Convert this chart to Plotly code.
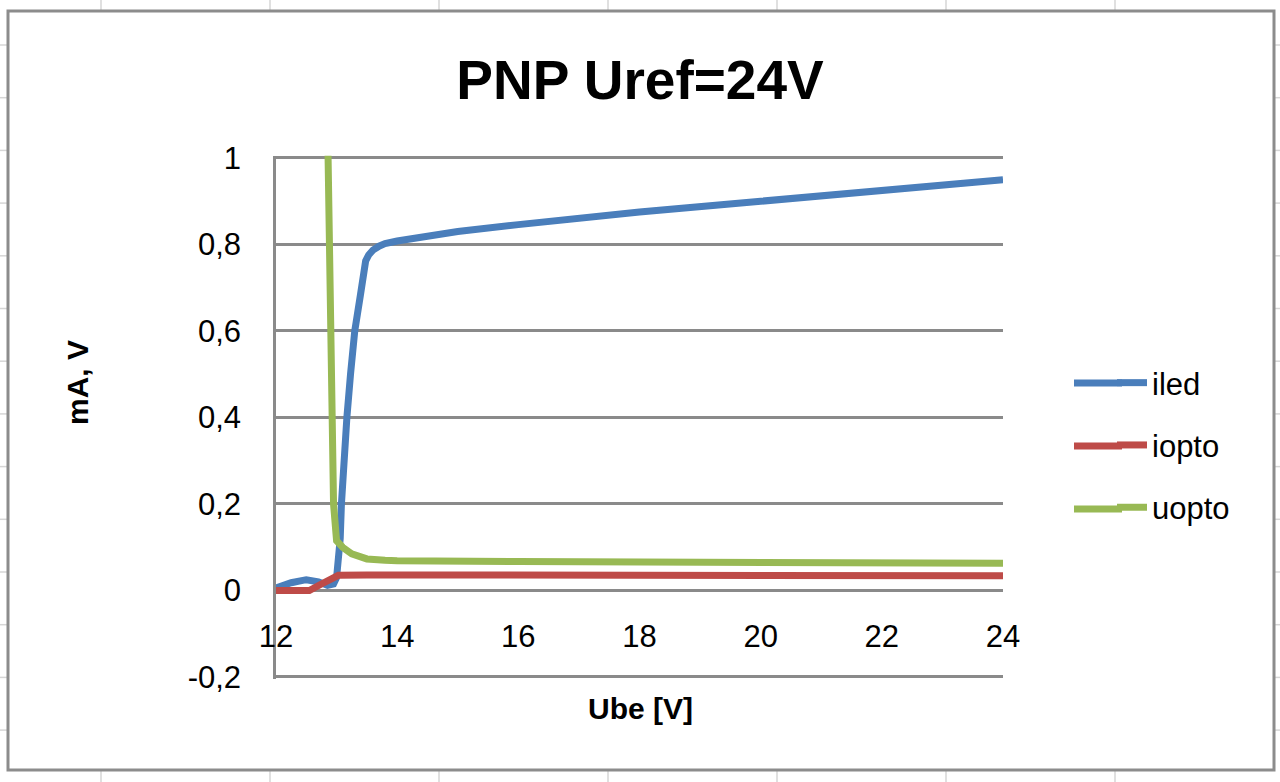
import plotly.graph_objects as go

# ---- data ----
ube_iled = [12.0, 12.25, 12.5, 12.7, 12.85, 12.95, 13.0, 13.04, 13.06, 13.08, 13.12, 13.17,
            13.23, 13.3, 13.39, 13.44, 13.48, 13.53, 13.6, 13.7, 13.8, 14.0, 14.5, 15, 16, 17,
            18, 20, 22, 24]
iled = [0.006, 0.018, 0.025, 0.02, 0.012, 0.015, 0.03, 0.08, 0.12, 0.2, 0.3, 0.4,
        0.5, 0.6, 0.68, 0.742, 0.762, 0.776, 0.787, 0.796, 0.802, 0.808, 0.82, 0.83, 0.846, 0.861,
        0.875, 0.9, 0.925, 0.95]

ube_iopto = [12.0, 12.3, 12.55, 12.75, 12.9, 13.03, 13.5, 16, 20, 24]
iopto = [0.0, -0.001, 0.0, 0.015, 0.028, 0.035, 0.036, 0.035, 0.034, 0.034]

ube_uopto = [12.8, 12.95, 13.0, 13.1, 13.25, 13.5, 13.8, 14, 16, 18, 20, 22, 24]
uopto = [1.53, 0.2, 0.115, 0.1, 0.085, 0.073, 0.07, 0.069, 0.067, 0.066, 0.065, 0.064, 0.063]

series_names = ["iled", "iopto", "uopto"]
series_colors = ["#4A7EBB", "#BE4B48", "#98B954"]

x_ticks = [12, 14, 16, 18, 20, 22, 24]
x_tick_labels = ["12", "14", "16", "18", "20", "22", "24"]
y_ticks = [-0.2, 0, 0.2, 0.4, 0.6, 0.8, 1]
y_tick_labels = ["-0,2", "0", "0,2", "0,4", "0,6", "0,8", "1"]

title_text = "PNP Uref=24V"
x_title = "Ube [V]"
y_title = "mA, V"

# ---- layout geometry (pixels of a 1280x782 page) ----
W, H = 1280, 782
def px(x):
    return x / W
def py(y):
    return 1 - y / H

GRID = "#8a8a8a"
FONT = "Liberation Sans"

fig = go.Figure()
for xs, ys, name, col in zip([ube_iled, ube_iopto, ube_uopto], [iled, iopto, uopto],
                             series_names, series_colors):
    fig.add_trace(go.Scatter(x=xs, y=ys, mode="lines", name=name, legendgroup=name,
                             line=dict(color=col, width=7)))

y_min, y_max = y_ticks[0], y_ticks[-1]
eps = 0.005  # keeps the edge gridlines (plotly drops gridlines within 1px of the ends)
y_dom = [py(677 + eps * 432.5), py(158 - eps * 432.5)]
zero_pos = py(591)

fig.update_layout(
    template="none",
    width=W, height=H,
    margin=dict(l=0, r=0, t=0, b=0),
    paper_bgcolor="white", plot_bgcolor="white",
    showlegend=True,
    title=dict(text=title_text, x=0.5, xanchor="center", y=py(80), yanchor="middle",
               font=dict(family=FONT, size=55, color="black", weight="bold")),
    xaxis=dict(domain=[px(276), px(1003)], range=[12, 24], anchor="free", position=zero_pos,
               tickvals=x_ticks, ticktext=x_tick_labels, showgrid=False, zeroline=False,
               showline=False, ticks="", ticklabelstandoff=24,
               tickfont=dict(family=FONT, size=31, color="black"), automargin=False),
    yaxis=dict(domain=y_dom, range=[y_min - eps, y_max + eps], tickvals=y_ticks, ticktext=y_tick_labels,
               showgrid=True, gridcolor=GRID, gridwidth=2.5, zeroline=False,
               showline=True, linecolor=GRID, linewidth=2.5, ticks="",
               ticklabelstandoff=26,
               tickfont=dict(family=FONT, size=31, color="black"), automargin=False),
    legend=dict(x=px(1112), xanchor="left", y=py(445), yanchor="middle",
                font=dict(family=FONT, size=31, color="black"),
                traceorder="grouped", tracegroupgap=19, bgcolor="rgba(0,0,0,0)"),
)

# axis titles
fig.add_annotation(text=x_title, xref="paper", yref="paper", x=px(640), y=py(708),
                   xanchor="center", yanchor="middle", showarrow=False,
                   font=dict(family=FONT, size=30, color="black", weight="bold"))
fig.add_annotation(text=y_title, xref="paper", yref="paper", x=px(77), y=py(383),
                   xanchor="center", yanchor="middle", showarrow=False, textangle=-90,
                   font=dict(family=FONT, size=30, color="black", weight="bold"))

# longer legend key lines (Excel draws them longer than plotly's fixed sample)
legend_key_y = [383, 446, 509]
for ky, col in zip(legend_key_y, series_colors):
    fig.add_shape(type="line", xref="paper", yref="paper", x0=px(1074), x1=px(1122),
                  y0=py(ky), y1=py(ky), line=dict(color=col, width=7))

# spreadsheet cell lines visible around the chart object
CELL = "#d6d6d6"
col_x = [101, 270, 439, 608, 777, 946, 1115]
row_y = [45 + 52.7 * k for k in range(14)]
for cx in col_x:
    fig.add_shape(type="line", xref="paper", yref="paper", x0=px(cx), x1=px(cx), y0=py(0), y1=py(11),
                  line=dict(color=CELL, width=1.5), layer="below")
    fig.add_shape(type="line", xref="paper", yref="paper", x0=px(cx), x1=px(cx), y0=py(770), y1=py(782),
                  line=dict(color=CELL, width=1.5), layer="below")
for ry in row_y:
    fig.add_shape(type="line", xref="paper", yref="paper", x0=px(0), x1=px(8), y0=py(ry), y1=py(ry),
                  line=dict(color=CELL, width=1.5), layer="below")
    fig.add_shape(type="line", xref="paper", yref="paper", x0=px(1274), x1=px(1280), y0=py(ry), y1=py(ry),
                  line=dict(color=CELL, width=1.5), layer="below")

# chart object border
fig.add_shape(type="rect", xref="paper", yref="paper", x0=px(8), x1=px(1274), y0=py(770), y1=py(11),
              line=dict(color="#8c8c8c", width=3), fillcolor="rgba(0,0,0,0)", layer="below")

fig.write_html("out.html", config={"displayModeBar": False},
               post_script="document.body.style.margin='0';document.body.style.overflow='hidden';")
